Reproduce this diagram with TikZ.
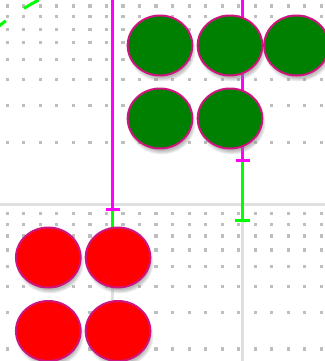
\documentclass[tikz,border=0pt]{standalone}
\usepackage{tikz}
\usetikzlibrary{arrows.meta,shapes.geometric,shadows}

\definecolor{leafgreen}{HTML}{008000}
\definecolor{limeline}{HTML}{00FF00}
\definecolor{magline}{HTML}{FF00FF}
\definecolor{rimpink}{HTML}{D0147F}
\definecolor{dotgrey}{HTML}{BEBEBE}
\definecolor{railgrey}{HTML}{E0E0E0}

\pgfdeclarelayer{background}
\pgfsetlayers{background,main}

\begin{document}
\begin{tikzpicture}[
    x=0.75pt, y=-0.75pt,
    gcell/.style={
        ellipse, draw=rimpink, line width=1.5pt, fill=leafgreen,
        minimum width=48.5pt, minimum height=45pt, inner sep=0pt,
        circular drop shadow={shadow scale=1.06, shadow xshift=1pt,
            shadow yshift=-3pt, opacity=0.55}
    },
    rcell/.style={
        ellipse, draw=rimpink, line width=1.5pt, fill=red,
        minimum width=48.5pt, minimum height=45pt, inner sep=0pt,
        circular drop shadow={shadow scale=1.06, shadow xshift=1pt,
            shadow yshift=-3pt, opacity=0.55}
    },
    wire/.style={draw=magline, line width=2.25pt, -{Bar[width=10.5pt]}},
    okwire/.style={draw=limeline, line width=2.25pt},
    okbar/.style={okwire, -{Bar[width=11pt]}},
    dashwire/.style={draw=limeline, line width=2.25pt, dash pattern=on 12.75pt off 16.5pt},
    rail/.style={draw=railgrey, line width=2.25pt},
    gdot/.style={fill=dotgrey}
]
\useasboundingbox (0,0) rectangle (325,361);

% 1. Green cells
\node[gcell] (g1) at (160,45.5) {};
\node[gcell] (g2) at (230,45.5) {};
\node[gcell] (g3) at (296.5,45.5) {};
\node[gcell] (g4) at (160,118.5) {};
\node[gcell] (g5) at (230,118.5) {};

% 2. Red cells
\node[rcell] (r1) at (48.3,257.5) {};
\node[rcell] (r2) at (118,257.5) {};
\node[rcell] (r3) at (48.3,331) {};
\node[rcell] (r4) at (118,331) {};

% Wire ends
\coordinate (topA) at (112.7,-2);
\coordinate (jA) at (112.7,210.5);
\coordinate (topB) at (242.7,-2);
\coordinate (jB) at (242.7,161.5);
\coordinate (endB) at (242.7,221.5);
\coordinate (dashS) at (38.7,0);
\coordinate (dashE) at (-8,32);

\begin{pgfonlayer}{background}
% Grid
\foreach \gy in {6,16.7,29.3,42.7,59.3,79.3,105.7,142.2,213.3,224.3,236,250,266.7,286.7,312.3,349}
  \foreach \k in {0,...,19}
    \fill[gdot] ({7.3+16.53*\k-1.6},{\gy-1.6}) rectangle ++(3.2,3.2);
\draw[rail] (0,204.3) -- (325,204.3);
\draw[rail] (112.7,204.3) -- (112.7,361);
\draw[rail] (242.7,204.3) -- (242.7,361);

% Wires
\draw[dashwire] (dashS) .. controls (18,11) and (6,20) .. (dashE);
\draw[okwire] (jA) -- (jA |- r2.center);
\draw[okbar] (jB) -- (endB);
\draw[wire] (topA) -- (jA);
\draw[wire] (topB) -- (jB);
\end{pgfonlayer}

\end{tikzpicture}
\end{document}
